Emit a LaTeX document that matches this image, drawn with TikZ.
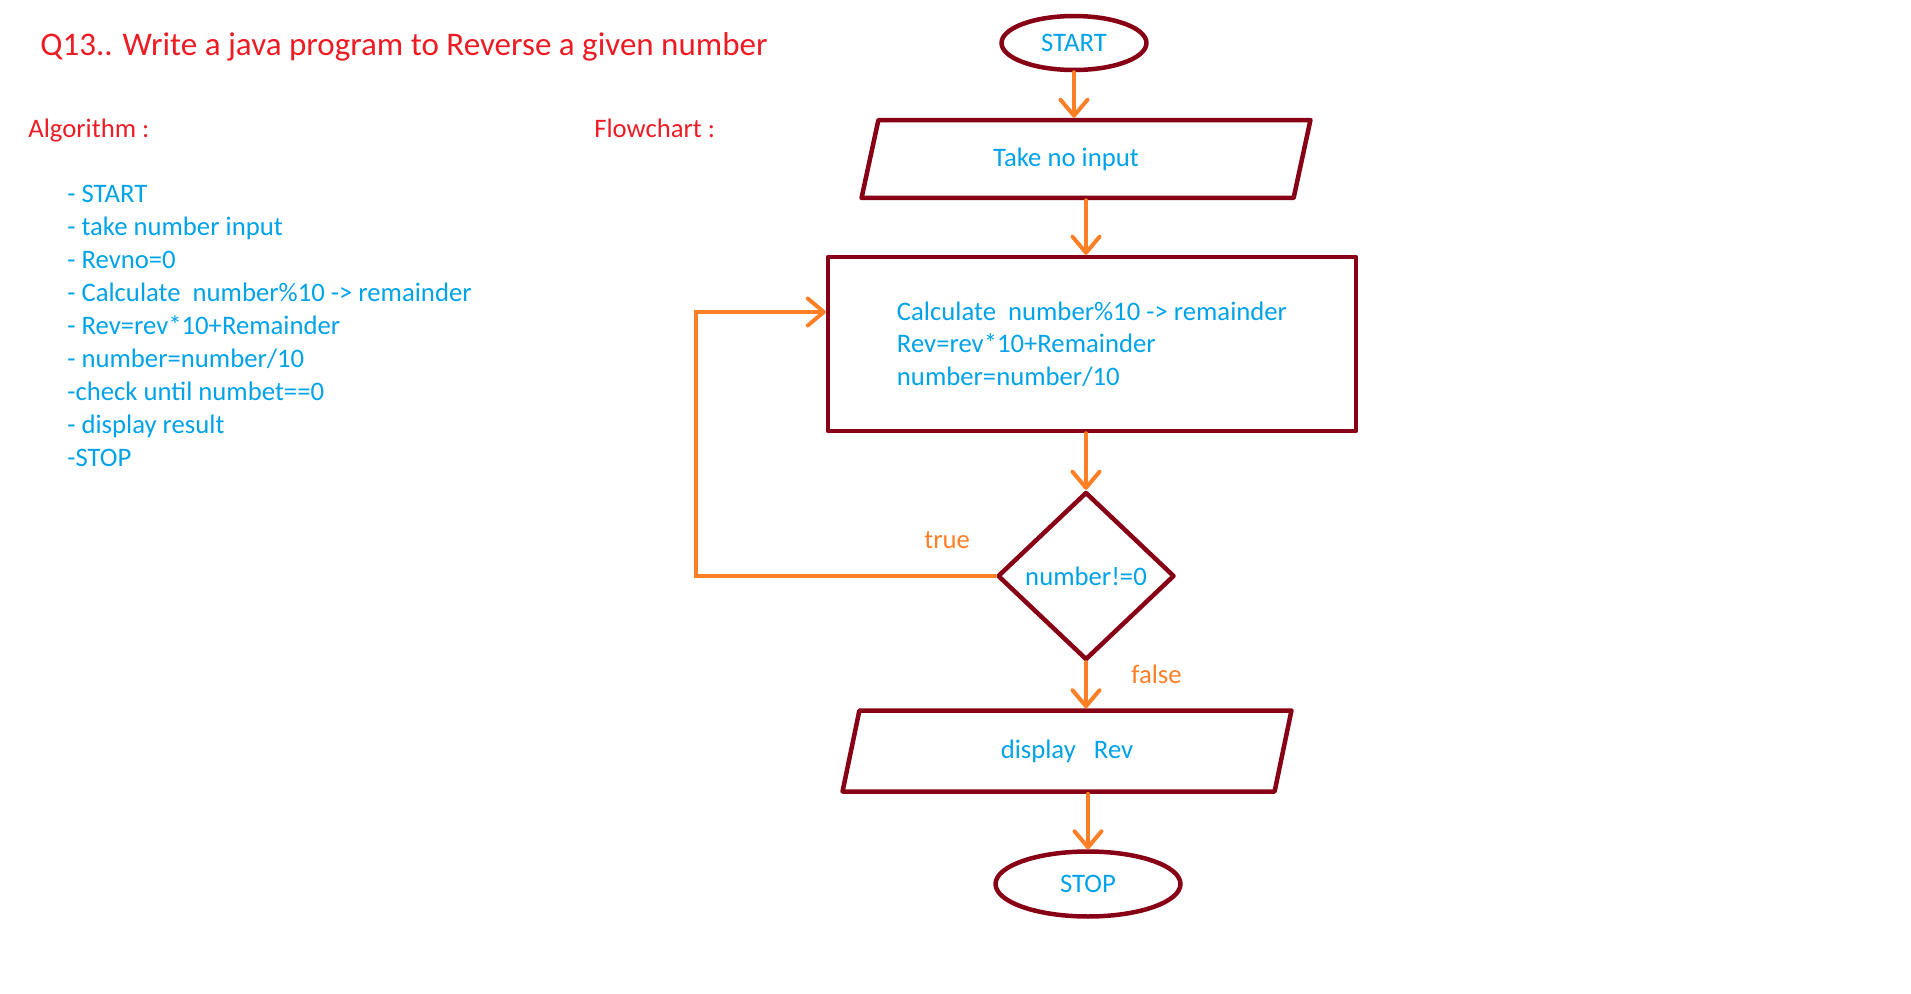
\documentclass[tikz,border=0pt]{standalone}
\usepackage{fontspec}
\setmainfont{Carlito}
\usetikzlibrary{shapes.geometric,arrows.meta,calc}
\definecolor{darkred}{HTML}{880015}
\definecolor{paintorange}{HTML}{FF7F27}
\definecolor{paintblue}{HTML}{00A2E8}
\definecolor{paintred}{HTML}{ED1C24}
\tikzset{
  txt/.style={inner sep=0, anchor=base west},
  title/.style={txt, text=paintred, font=\fontsize{18.8}{22}\selectfont},
  head/.style={txt, text=paintred},
  item/.style={txt, text=paintblue},
  tag/.style={txt, text=paintorange},
  shp/.style={draw=darkred, line width=0.09cm, text=paintblue, line join=round},
  term/.style={shp, ellipse, inner sep=0},
  io/.style={shp, trapezium, trapezium left angle=64, trapezium right angle=116,
    trapezium stretches body, minimum width=8.98cm, minimum height=1.56cm},
  flow/.style={draw=paintorange, line width=0.08cm, line cap=round,
    -{Straight Barb[length=0.32cm,width=0.54cm,round]}}
}
\begin{document}
\begin{tikzpicture}[x=0.02cm, y=-0.02cm, font=\fontsize{15.2}{18.6}\selectfont]
  \useasboundingbox (0,0) rectangle (1911,994);
  \node[title] (Q) at (40,55) {Q13.. Write a java program to Reverse a given number};
  \node[head] (alg) at (28,137) {Algorithm :};
  \node[head] (fc) at (594,137) {Flowchart :};
  \foreach \t [count=\i] in {- START, - take number input, - Revno=0,
    - Calculate\ \ number\%10 -> remainder, - Rev=rev*10+Remainder,
    - number=number/10, -check until numbet==0, - display result, -STOP}
    \node[item] (L\i) at (67,{202+33*(\i-1)}) {\t};

  \node[term, minimum width=2.9cm, minimum height=1.08cm] (start) at (1074,43) {START};
  \node[io] (input) at (1086,159) {Take no input\hspace*{0.8cm}};
  \node[shp, rectangle, align=left, minimum width=10.56cm, minimum height=3.48cm] (calc) at (1092,344)
    {Calculate\ \ number\%10 -> remainder\\Rev=rev*10+Remainder\\number=number/10};
  \node[shp, diamond, inner sep=0, minimum width=3.54cm, minimum height=3.36cm] (cond) at (1086,576) {number!=0};
  \node[io, minimum height=1.62cm] (output) at (1067,751) {display\ \ \ Rev};
  \node[term, minimum width=3.7cm, minimum height=1.3cm] (stop) at (1088,884) {STOP};
  \node[tag] (yes) at (924,548) {true};
  \node[tag] (no) at (1131,683) {false};

  \coordinate (B) at (696,576);
  \coordinate (C) at (696,312);
  \draw[flow] (start.south) -- (start.south |- input.north);
  \draw[flow] (input.south) -- (input.south |- calc.north);
  \draw[flow] (cond.north |- calc.south) -- (cond.north);
  \draw[flow] (cond.south) -- (cond.south |- output.north);
  \draw[flow] (stop.north |- output.south) -- (stop.north);
  \draw[flow] (cond.west) -- (B) -- (C) -- (C -| calc.west);
\end{tikzpicture}
\end{document}
